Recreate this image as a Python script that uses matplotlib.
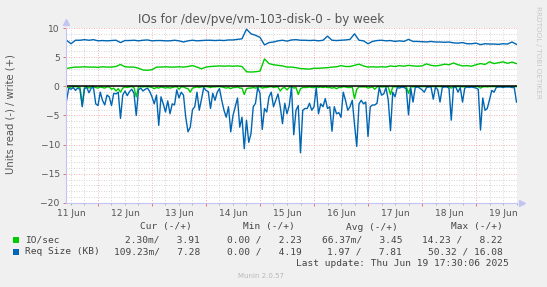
import matplotlib
matplotlib.use('Agg')
import matplotlib.pyplot as plt
import pandas as pd
from matplotlib.patches import Rectangle

# ---- data ----
start = pd.Timestamp('2025-06-11 10:00')
hours = pd.date_range(start, periods=201, freq='h')      # read side, 1 h steps
hours2 = pd.date_range(start, periods=101, freq='2h')    # write side, 2 h steps

# IO/sec, read (drawn negative)
io_read = [
    -0.1, -0.3, -0.1, -0.05, -0.05, -0.1, -0.2, -3.2, -0.1, -0.05,
    -0.3, -0.05, -0.05, -0.2, -0.3, -0.1, -0.2, -0.3, -0.1, -0.1,
    -0.5, -0.3, -0.8, -0.4, -1.0, -0.3, -0.1, -0.2, -0.1, -0.05,
    -0.2, -1.8, -0.1, -0.05, -0.1, -0.05, -0.05, -0.1, -0.2, -0.4,
    -0.2, -0.3, -0.1, -0.2, -0.3, -0.2, -0.3, -0.2, -0.1, -0.05,
    -0.5, -0.1, -0.1, -0.3, -0.4, -1.0, -0.3, -0.2, -0.1, -0.2,
    -0.1, -0.05, -0.05, -0.1, -0.2, -0.1, -0.1, -0.05, -0.05, -0.1,
    -0.2, -0.3, -0.2, -0.4, -0.2, -0.2, -0.1, -0.3, -0.3, -1.4,
    -0.4, -0.3, -0.3, -0.2, -0.3, -0.2, -0.05, -0.3, -0.2, -0.2,
    -0.1, -0.05, -0.2, -0.1, -0.1, -0.8, -0.3, -0.2, -0.6, -0.2,
    -0.05, -0.3, -0.2, -1.4, -0.4, -0.2, -0.2, -0.2, -0.1, -0.2,
    -0.2, -0.05, -0.2, -0.1, -0.2, -0.1, -0.2, -0.2, -0.3, -0.2,
    -0.4, -0.2, -0.2, -0.05, -0.1, -0.2, -0.2, -0.1, -2.1, -0.5,
    -0.1, -0.1, -0.1, -0.1, -0.3, -0.2, -0.1, -0.5, -0.1, -0.05,
    -0.1, -0.1, -0.05, -0.1, -1.4, -0.05, -0.1, -0.05, -0.05, -0.05,
    -0.05, -0.05, -1.2, -0.05, -0.1, -0.05, -0.05, -0.05, -0.05, -0.05,
    -0.05, -0.05, -0.05, -0.05, -0.05, -0.05, -0.05, -0.05, -0.05, -0.05,
    -0.05, -0.3, -0.05, -0.05, -0.05, -0.05, -0.1, -0.05, -0.05, -0.05,
    -0.05, -0.05, -0.05, -0.05, -0.3, -0.1, -0.05, -0.1, -0.05, -0.05,
    -0.05, -0.05, -0.05, -0.05, -0.05, -0.05, -0.05, -0.05, -0.05, -0.05,
    -0.05,
]

# Req Size (KB), read (drawn negative)
req_read = [
    -2.5, -0.3, -0.5, -0.2, -0.7, -0.3, -0.5, -3.5, -0.4, -0.2,
    -1.1, -0.3, -0.2, -3.0, -3.3, -1.0, -2.4, -3.2, -1.5, -1.8,
    -3.3, -1.2, -1.3, -1.0, -5.5, -1.5, -0.8, -1.6, -0.9, -0.5,
    -1.2, -5.0, -0.6, -0.3, -0.8, -0.5, -0.3, -0.9, -1.8, -3.0,
    -1.5, -6.7, -1.8, -3.0, -4.4, -2.5, -4.7, -3.0, -3.2, -0.6,
    -2.0, -1.0, -1.5, -5.3, -7.8, -7.0, -4.0, -3.5, -1.0, -4.1,
    -2.2, -0.2, -0.7, -0.9, -3.8, -1.2, -2.4, -1.0, -0.4, -2.4,
    -4.1, -5.3, -3.5, -7.8, -5.0, -3.5, -2.0, -7.0, -5.3, -10.7,
    -5.8, -9.6, -8.1, -3.5, -2.9, -0.2, -1.2, -7.4, -3.8, -4.4,
    -1.8, -1.0, -3.5, -2.4, -1.3, -3.5, -6.4, -2.9, -4.7, -3.3,
    -0.1, -8.3, -4.1, -3.3, -11.4, -4.1, -3.8, -3.8, -2.9, -4.1,
    -3.5, -0.2, -4.7, -3.0, -3.5, -2.1, -3.8, -3.5, -7.7, -3.5,
    -4.7, -4.5, -5.3, -1.0, -2.4, -4.1, -3.5, -2.4, -6.5, -10.3,
    -3.0, -2.4, -3.0, -2.7, -8.6, -3.5, -3.2, -3.2, -2.9, -0.2,
    -1.5, -1.3, -0.2, -2.4, -7.6, -1.0, -1.8, -0.2, -0.3, -0.1,
    -0.2, -0.4, -4.9, -0.3, -2.7, -0.2, -0.1, -0.3, -0.6, -1.0,
    -0.2, -0.1, -0.1, -2.2, -0.1, -0.6, -2.7, -0.2, -0.1, -0.1,
    -0.3, -5.8, -0.2, -0.1, -1.0, -0.2, -2.7, -0.3, -0.1, -0.2,
    -0.1, -0.2, -0.3, -0.5, -7.5, -2.0, -4.1, -3.8, -2.3, -0.7,
    -1.0, -0.2, -0.1, -0.1, -0.2, -0.1, -0.1, -0.1, -0.2, -0.2,
    -2.7,
]

# IO/sec, write
io_write = [
    3.05, 3.2, 3.3, 3.3, 3.35, 3.3, 3.3, 3.25, 3.35, 3.3,
    3.3, 3.4, 3.75, 3.35, 3.3, 3.3, 3.1, 2.8, 2.75, 2.85,
    3.3, 3.3, 3.35, 3.3, 3.3, 3.35, 3.3, 3.4, 3.55, 3.3,
    3.0, 3.3, 3.4, 3.45, 3.5, 3.45, 3.5, 3.45, 3.5, 3.4,
    2.5, 2.45, 2.5, 2.6, 4.7, 3.9, 3.7, 3.6, 3.5, 3.3,
    3.3, 3.2, 3.05, 3.0, 2.95, 3.1, 3.1, 3.15, 3.2, 3.3,
    3.35, 3.55, 3.4, 3.4, 3.6, 3.8, 3.5, 3.3, 3.35, 3.3,
    3.35, 3.3, 3.5, 3.4, 3.55, 3.45, 3.6, 3.5, 3.45, 3.5,
    3.85, 3.6, 3.5, 3.6, 3.8, 3.7, 4.0, 3.7, 3.5, 3.55,
    3.45, 3.7, 3.9, 3.75, 4.2, 3.9, 4.05, 4.2, 3.95, 4.15,
    3.9,
]

# Req Size (KB), write
req_write = [
    7.9, 7.3, 7.9, 7.9, 8.0, 7.9, 8.0, 7.8, 7.85, 7.8,
    7.85, 7.9, 7.5, 7.85, 7.85, 7.9, 7.8, 7.9, 7.95, 7.8,
    7.85, 7.85, 7.8, 7.8, 7.9, 7.8, 7.6, 7.8, 7.9, 7.8,
    7.85, 7.9, 7.9, 7.85, 7.9, 7.85, 7.95, 7.95, 8.05, 8.15,
    9.8, 9.0, 8.75, 8.4, 7.1, 7.5, 7.6, 7.8, 7.9, 7.75,
    7.95, 8.0, 7.9, 7.9, 7.85, 7.9, 7.8, 7.9, 8.6, 7.9,
    7.85, 7.9, 7.95, 8.05, 9.0, 7.9, 7.8, 7.3, 7.7, 7.85,
    7.9, 7.8, 7.85, 7.7, 7.8, 7.7, 8.05, 7.7, 7.7, 7.65,
    7.6, 7.7, 7.6, 7.6, 7.55, 7.6, 7.45, 7.4, 7.5, 7.3,
    7.3, 7.4, 7.15, 7.3, 7.25, 7.25, 7.2, 7.3, 7.25, 7.6,
    7.2,
]

series_names = ['IO/sec', 'Req Size (KB)']
series_colors = ['#00CC00', '#0066B3']
stat_headers = ['Cur (-/+)', 'Min (-/+)', 'Avg (-/+)', 'Max (-/+)']
io_stats = ['2.30m/   3.91', '0.00 /   2.23', '66.37m/   3.45', '14.23 /   8.22']
req_stats = ['109.23m/   7.28', '0.00 /   4.19', '1.97 /   7.81', '50.32 / 16.08']
day_labels = ['11 Jun', '12 Jun', '13 Jun', '14 Jun', '15 Jun', '16 Jun', '17 Jun', '18 Jun', '19 Jun']

W, H = 547, 287


def fx(px):
    return px / W


def fy(py):
    return 1 - py / H


fig = plt.figure(figsize=(W / 100, H / 100), dpi=100, facecolor='#f0f0f0')
ax = fig.add_axes([fx(66), fy(203), (517 - 66) / W, (203 - 28) / H])
ax.set_facecolor('white')

# grid
x0 = pd.Timestamp('2025-06-11 09:47')
x1 = pd.Timestamp('2025-06-19 18:13')
ax.set_xlim(x0, x1)
ax.set_ylim(-20, 10)
ax.set_xticks(pd.date_range('2025-06-12', '2025-06-19', freq='D'))
ax.set_xticks(pd.date_range('2025-06-11 12:00', '2025-06-19 18:00', freq='6h'), minor=True)
ax.set_yticks(range(-20, 11, 5))
ax.set_yticks(range(-20, 11, 1), minor=True)
ax.grid(which='minor', color='#c8c8c8', linestyle=(0, (1, 2)), linewidth=0.6)
ax.grid(which='major', color='#ee9a9a', linestyle=(0, (1, 2)), linewidth=0.6)
ax.set_axisbelow(True)
ax.xaxis.set_major_formatter(plt.NullFormatter())
ax.tick_params(axis='x', which='major', length=2.5, color='#e06060', width=0.6)
ax.tick_params(axis='x', which='minor', length=1.5, color='#aaaaaa', width=0.6)
ax.tick_params(axis='y', which='major', length=2, color='#e06060', width=0.6,
               labelsize=6.6, labelcolor='#555555', pad=2.5)
ax.tick_params(axis='y', which='minor', length=0)

for lab, d in zip(day_labels, pd.date_range('2025-06-11 12:00', periods=9, freq='D')):
    ax.text(d, -0.035, lab, transform=ax.get_xaxis_transform(), ha='center', va='top',
            fontsize=6.6, color='#555555')

for s in ['top', 'right']:
    ax.spines[s].set_visible(False)
for s in ['left', 'bottom']:
    ax.spines[s].set_color('#c4c4f4')
    ax.spines[s].set_linewidth(0.8)
ax.plot([0], [1.035], marker='^', color='#c4c4f4', markersize=4, transform=ax.transAxes, clip_on=False)
ax.plot([1.01], [0], marker='>', color='#c4c4f4', markersize=4, transform=ax.transAxes, clip_on=False)

# data
ax.plot(hours, io_read, color=series_colors[0], lw=1.0)
ax.plot(hours2, io_write, color=series_colors[0], lw=1.0)
ax.plot(hours, req_read, color=series_colors[1], lw=1.0)
ax.plot(hours2, req_write, color=series_colors[1], lw=1.0)
ax.axhline(0, color='black', lw=1.1)

# texts
fig.text(fx(261), fy(19), 'IOs for /dev/pve/vm-103-disk-0 - by week', ha='center', va='center',
         fontsize=8.6, color='#555555')
fig.text(fx(11), fy(114), 'Units read (-) / write (+)', rotation=90, ha='center', va='center',
         fontsize=7.2, color='#555555')
fig.text(fx(538), fy(52), 'RRDTOOL / TOBI OETIKER', rotation=270, ha='center', va='center',
         fontsize=5.2, color='#c8c8c8')

mono = dict(family='DejaVu Sans Mono', fontsize=6.8, color='#444444', va='center')
header_x = [192, 295, 398, 503]
value_x = [200, 302, 402, 503]
for h, x in zip(stat_headers, header_x):
    fig.text(fx(x), fy(227), h, ha='right', **mono)
for row, (name, col, stats) in enumerate(zip(series_names, series_colors, [io_stats, req_stats])):
    yy = 240 + row * 12
    fig.patches.append(Rectangle((fx(13), fy(yy + 3)), 5.5 / W, 6 / H, transform=fig.transFigure,
                                 facecolor=col, edgecolor='none'))
    fig.text(fx(25), fy(yy), name, ha='left', **mono)
    for s, x in zip(stats, value_x):
        fig.text(fx(x), fy(yy), s, ha='right', **mono)
fig.text(fx(509), fy(263.5), 'Last update: Thu Jun 19 17:30:06 2025', ha='right', **mono)
fig.text(fx(261), fy(276.5), 'Munin 2.0.57', ha='center', va='center', fontsize=5, color='#b8b8b8')

fig.savefig('out.png', dpi=100, facecolor=fig.get_facecolor())
